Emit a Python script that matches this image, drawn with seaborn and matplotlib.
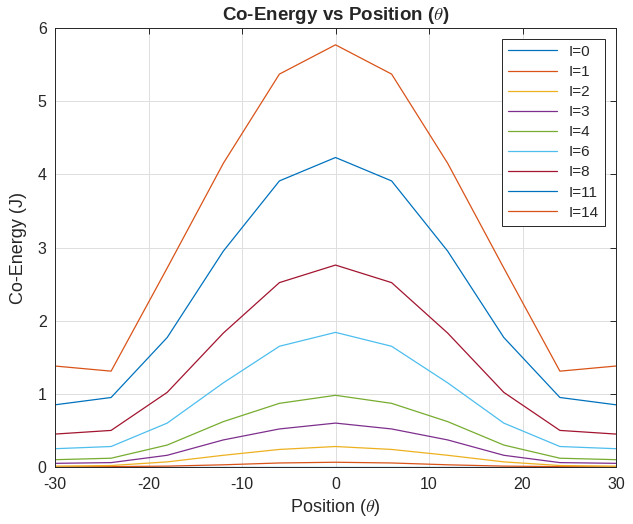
import numpy as np
import pandas as pd
import matplotlib
matplotlib.use("Agg")
import matplotlib.pyplot as plt
import seaborn as sns

positions = [-30, -24, -18, -12, -6, 0, 6, 12, 18, 24, 30]
currents = ["I=0", "I=1", "I=2", "I=3", "I=4", "I=6", "I=8", "I=11", "I=14"]
half_I0 = [0.0, 0.0, 0.0, 0.0, 0.0, 0.0]
half_I1 = [0.0, 0.005, 0.012, 0.03, 0.055, 0.065]
half_I2 = [0.012, 0.02, 0.07, 0.16, 0.24, 0.28]
half_I3 = [0.05, 0.06, 0.16, 0.37, 0.52, 0.60]
half_I4 = [0.10, 0.12, 0.30, 0.62, 0.87, 0.98]
half_I6 = [0.25, 0.28, 0.60, 1.15, 1.65, 1.84]
half_I8 = [0.45, 0.50, 1.02, 1.83, 2.52, 2.76]
half_I11 = [0.85, 0.95, 1.77, 2.95, 3.91, 4.23]
half_I14 = [1.38, 1.31, 2.72, 4.15, 5.37, 5.77]

halves = [half_I0, half_I1, half_I2, half_I3, half_I4, half_I6, half_I8, half_I11, half_I14]
rows = []
for name, h in zip(currents, halves):
    vals = h + h[-2::-1]
    for p, v in zip(positions, vals):
        rows.append({"Position": p, "CoEnergy": v, "Current": name})
df = pd.DataFrame(rows)

matlab = [(0, 0.447, 0.741), (0.85, 0.325, 0.098), (0.929, 0.694, 0.125),
          (0.494, 0.184, 0.556), (0.466, 0.674, 0.188), (0.301, 0.745, 0.933),
          (0.635, 0.078, 0.184)]
palette = [matlab[i % 7] for i in range(len(currents))]

sns.set_style("white")
plt.rcParams['font.family'] = ['Liberation Sans', 'DejaVu Sans']
plt.rcParams['mathtext.fontset'] = 'cm'
plt.rcParams['axes.unicode_minus'] = False

fig = plt.figure(figsize=(6.33, 5.24), dpi=100)
ax = fig.add_axes([55/633, 1 - 467/524, (616-55)/633, (467-28)/524])
sns.lineplot(data=df, x="Position", y="CoEnergy", hue="Current", hue_order=currents,
             palette=palette, linewidth=0.9, ax=ax, legend=True)

ax.set_xlim(-30, 30)
ax.set_ylim(0, 6)
ax.set_xticks([-30, -20, -10, 0, 10, 20, 30])
ax.set_yticks([0, 1, 2, 3, 4, 5, 6])
ax.grid(True, color="#dedede", linewidth=0.7)
for s in ax.spines.values():
    s.set_color("#262626")
    s.set_linewidth(0.7)
ax.tick_params(direction="in", top=True, right=True, labelsize=11.5, length=4,
               colors="#262626", width=0.7)
ax.tick_params(axis="x", pad=7)
ax.tick_params(axis="y", pad=6)
ax.set_xlabel(r"Position ($\theta$)", fontsize=13, color="#262626", labelpad=4)
ax.set_ylabel("Co-Energy (J)", fontsize=13, color="#262626", labelpad=8)
ax.set_title(r"Co-Energy vs Position ($\theta$)", fontsize=13.5, fontweight="bold", pad=6)

leg = ax.legend(loc="upper right", fontsize=11, frameon=True, fancybox=False,
                edgecolor="#262626", framealpha=1, handlelength=3.2,
                borderaxespad=0.7, labelspacing=0.4)
leg.get_frame().set_linewidth(0.7)

fig.savefig("out.png", dpi=100)
